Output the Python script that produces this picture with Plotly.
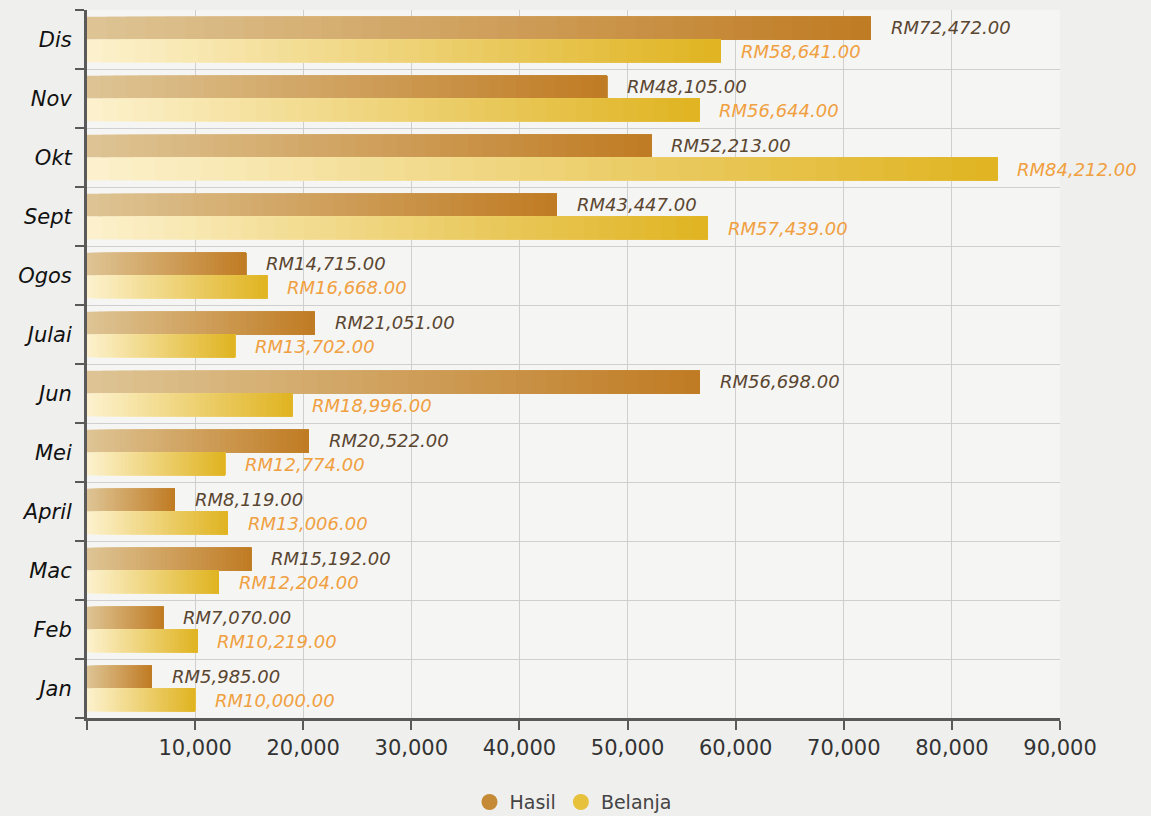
import plotly.graph_objects as go

months = ["Jan", "Feb", "Mac", "April", "Mei", "Jun", "Julai", "Ogos", "Sept", "Okt", "Nov", "Dis"]
hasil = [5985, 7070, 15192, 8119, 20522, 56698, 21051, 14715, 43447, 52213, 48105, 72472]
belanja = [10000, 10219, 12204, 13006, 12774, 18996, 13702, 16668, 57439, 84212, 56644, 58641]
x_ticks = [0, 10000, 20000, 30000, 40000, 50000, 60000, 70000, 80000, 90000]
x_ticktext = ["", "10,000", "20,000", "30,000", "40,000", "50,000", "60,000", "70,000", "80,000", "90,000"]

hasil_grad = ((222, 196, 148), (192, 124, 36))
belanja_grad = ((252, 241, 204), (224, 180, 34))

N = 40
FONT = "DejaVu Sans"


def lerp(c0, c1, t):
    return "rgb(%d,%d,%d)" % tuple(round(a + (b - a) * t) for a, b in zip(c0, c1))


fig = go.Figure()

series = [
    ("Hasil", hasil, hasil_grad, 0.0, 0.385),
    ("Belanja", belanja, belanja_grad, -0.385, 0.385),
]

# gradient bars: each layer covers from a fraction of the value to the bar end,
# later (darker) layers drawn on top of earlier ones
for name, vals, grad, off, wid in series:
    for k in range(N):
        t = k / (N - 1)
        fig.add_trace(go.Bar(
            y=months,
            x=[v * (1 - k / N) for v in vals],
            base=[v * k / N for v in vals],
            orientation="h",
            offset=off,
            width=wid,
            marker=dict(color=lerp(grad[0], grad[1], t), line=dict(width=0)),
            showlegend=False,
            hoverinfo="skip",
        ))

# legend entries
fig.add_trace(go.Scatter(x=[None], y=[None], mode="markers", name="Hasil",
                         marker=dict(size=16, color="#c48a35", line=dict(width=0))))
fig.add_trace(go.Scatter(x=[None], y=[None], mode="markers", name="Belanja",
                         marker=dict(size=16, color="#e8c13c", line=dict(width=0))))

annotations = []
for i, (h, b) in enumerate(zip(hasil, belanja)):
    annotations.append(dict(x=h, y=i + 0.2, xref="x", yref="y", text="RM{:,.2f}".format(h),
                            showarrow=False, xanchor="left", yanchor="middle", xshift=18,
                            font=dict(family=FONT, size=18, color="#5a4630", style="italic")))
    annotations.append(dict(x=b, y=i - 0.2, xref="x", yref="y", text="RM{:,.2f}".format(b),
                            showarrow=False, xanchor="left", yanchor="middle", xshift=18,
                            font=dict(family=FONT, size=18, color="#f0a040", style="italic")))

fig.update_layout(
    width=1151, height=816,
    barmode="overlay",
    paper_bgcolor="#efefed",
    plot_bgcolor="#f5f5f4",
    margin=dict(l=87, r=91, t=10, b=98, autoexpand=False),
    annotations=annotations,
    showlegend=True,
    legend=dict(orientation="h", x=0.5, xanchor="center", yref="container", y=0.017, yanchor="middle",
                font=dict(family=FONT, size=19, color="#444444"), bgcolor="rgba(0,0,0,0)",
                itemsizing="trace"),
    font=dict(family=FONT),
)

fig.update_xaxes(
    range=[0, 90000], tickvals=x_ticks, ticktext=x_ticktext,
    showgrid=True, gridcolor="#cfcfcf", gridwidth=1.2,
    showline=True, linecolor="#5a5a5a", linewidth=3,
    ticks="outside", ticklen=9, tickwidth=2, tickcolor="#5a5a5a",
    tickfont=dict(family=FONT, size=21, color="#333333"),
    zeroline=False, mirror=False,
)
fig.update_yaxes(
    categoryorder="array", categoryarray=months, range=[-0.5, 11.5],
    tickson="boundaries", showgrid=True, gridcolor="#cfcfcf", gridwidth=1.2,
    showline=True, linecolor="#5a5a5a", linewidth=3,
    ticks="outside", ticklen=9, tickwidth=2, tickcolor="#5a5a5a",
    tickfont=dict(family=FONT, size=21, color="#111111", style="italic"),
    ticklabelstandoff=8,
)

fig.write_html("out.html", config={"displayModeBar": False},
               post_script="document.body.style.margin='0';")
